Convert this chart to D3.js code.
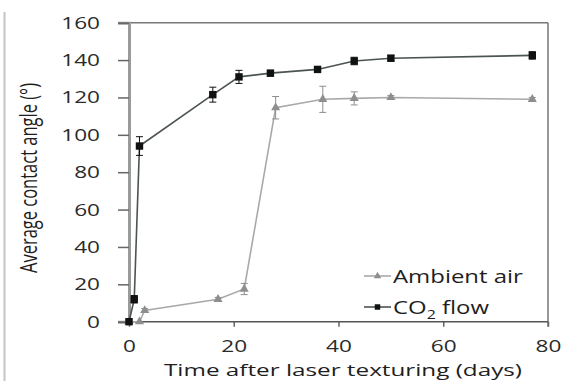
<!DOCTYPE html>
<html><head><meta charset="utf-8">
<script src="https://cdn.jsdelivr.net/npm/d3@7"></script>
<style>html,body{margin:0;padding:0;background:#fff;}svg{display:block;}</style>
</head><body>
<svg id="c" width="570" height="381"></svg>
<script>
const xTicks = [0, 20, 40, 60, 80];
const yTicks = [0, 20, 40, 60, 80, 100, 120, 140, 160];

const co2Days  = [0, 1, 2, 16, 21, 27, 36, 43, 50, 77];
const co2Angle = [0, 12, 94, 121.5, 131, 133, 135, 139.5, 141, 142.5];
const co2Err   = [1, 2, 5, 4, 3.5, 1.5, 1, 2, 1.5, 2];

const airDays  = [0, 2, 3, 17, 22, 28, 37, 43, 50, 77];
const airAngle = [0, 0, 6, 12, 17.5, 114.5, 119, 119.5, 120, 119];
const airErr   = [0, 0, 1, 1, 3, 6, 7, 3.5, 1, 1];

const seriesNames = ["Ambient air", "CO2 flow"];

const svg = d3.select("#c");
const font = "'Open Sans', sans-serif";
const SX = 1.33; // horizontal stretch of glyphs seen in the reference
const x = d3.scaleLinear().domain([0, 80]).range([129, 548]);
const y = d3.scaleLinear().domain([0, 160]).range([321.7, 22.7]);

// scanning artifact line at far left
svg.append("line").attr("x1", 4.5).attr("x2", 4.5).attr("y1", 12).attr("y2", 381)
  .attr("stroke", "#c4c4c4").attr("stroke-width", 2);

// frame top and right
svg.append("line").attr("x1", 118).attr("x2", 548).attr("y1", y(160)).attr("y2", y(160))
  .attr("stroke", "#777").attr("stroke-width", 1.5);
svg.append("line").attr("x1", 548).attr("x2", 548).attr("y1", y(160)).attr("y2", y(0) + 5)
  .attr("stroke", "#777").attr("stroke-width", 1.5);

// y axis
const ya = svg.append("g").attr("transform", "translate(129,0)")
  .call(d3.axisLeft(y).tickValues(yTicks).tickSize(11).tickPadding(18));
ya.select(".domain").attr("stroke", "#9a9a9a").attr("stroke-width", 3);
ya.selectAll(".tick line").attr("stroke", "#666").attr("stroke-width", 1.5);
ya.selectAll(".tick text").attr("font-family", font).attr("font-size", 17).attr("fill", "#2a2a2a")
  .attr("x", 0).attr("transform", `translate(-29,0) scale(${SX},1)`);

// x axis
const xa = svg.append("g").attr("transform", `translate(0,${y(0)})`)
  .call(d3.axisBottom(x).tickValues(xTicks).tickSize(5).tickPadding(13));
xa.select(".domain").remove();
svg.append("line").attr("x1", 129).attr("x2", 548).attr("y1", y(0)).attr("y2", y(0))
  .attr("stroke", "#555").attr("stroke-width", 1.5);
xa.selectAll(".tick line").attr("stroke", "#666").attr("stroke-width", 1.5);
xa.selectAll(".tick text").attr("font-family", font).attr("font-size", 17).attr("fill", "#2a2a2a")
  .attr("transform", `scale(${SX},1)`);

// axis titles
svg.append("text").attr("x", 343).attr("y", 375.5).attr("text-anchor", "middle")
  .attr("font-family", font).attr("font-size", 17).attr("fill", "#1e1e1e")
  .attr("textLength", 358).attr("lengthAdjust", "spacingAndGlyphs")
  .text("Time after laser texturing (days)");
svg.append("text").attr("transform", "translate(37,178) rotate(-90) scale(1,1.3)").attr("text-anchor", "middle")
  .attr("font-family", font).attr("font-size", 18).attr("fill", "#1e1e1e")
  .attr("textLength", 190).attr("lengthAdjust", "spacingAndGlyphs")
  .text("Average contact angle (°)");

function series(days, vals, errs, lineColor, markColor, shape) {
  const pts = days.map((d, i) => ({x: d, y: vals[i], e: errs[i]}));
  const g = svg.append("g");
  g.append("path").datum(pts)
    .attr("d", d3.line().x(d => x(d.x)).y(d => y(d.y)))
    .attr("fill", "none").attr("stroke", lineColor).attr("stroke-width", 1.6);
  const eb = g.selectAll(".eb").data(pts.filter(d => d.e > 0.5)).enter().append("g");
  eb.append("line").attr("x1", d => x(d.x)).attr("x2", d => x(d.x))
    .attr("y1", d => y(d.y - d.e)).attr("y2", d => y(d.y + d.e))
    .attr("stroke", markColor).attr("stroke-width", 1);
  [1, -1].forEach(s => {
    eb.append("line").attr("x1", d => x(d.x) - 3.5).attr("x2", d => x(d.x) + 3.5)
      .attr("y1", d => y(d.y + s * d.e)).attr("y2", d => y(d.y + s * d.e))
      .attr("stroke", markColor).attr("stroke-width", 1);
  });
  g.selectAll(".m").data(pts).enter().append("path")
    .attr("transform", d => `translate(${x(d.x)},${y(d.y)})`)
    .attr("d", d3.symbol().type(shape).size(shape === d3.symbolSquare ? 55 : 36))
    .attr("fill", markColor);
}
series(airDays, airAngle, airErr, "#a9a9a9", "#8e8e8e", d3.symbolTriangle);
series(co2Days, co2Angle, co2Err, "#4b5450", "#111", d3.symbolSquare);

// legend
const leg = [
  {name: seriesNames[0], y: 276, lc: "#a9a9a9", mc: "#8e8e8e", shape: d3.symbolTriangle},
  {name: seriesNames[1], y: 307, lc: "#4b5450", mc: "#111", shape: d3.symbolSquare}
];
leg.forEach(l => {
  svg.append("line").attr("x1", 364).attr("x2", 391).attr("y1", l.y).attr("y2", l.y)
    .attr("stroke", l.lc).attr("stroke-width", 1.6);
  svg.append("path").attr("transform", `translate(377.5,${l.y})`)
    .attr("d", d3.symbol().type(l.shape).size(l.shape === d3.symbolSquare ? 30 : 24)).attr("fill", l.mc);
  const t = svg.append("text").attr("x", 0).attr("y", 0)
    .attr("transform", `translate(393,${l.y + 6.5}) scale(${SX},1)`)
    .attr("font-family", font).attr("font-size", 18).attr("fill", "#1e1e1e");
  if (l.name === "CO2 flow") {
    t.append("tspan").text("CO");
    t.append("tspan").attr("font-size", 12).attr("dy", 5).text("2");
    t.append("tspan").attr("dy", -5).text(" flow");
  } else {
    t.text(l.name);
  }
});
</script>
</body></html>
